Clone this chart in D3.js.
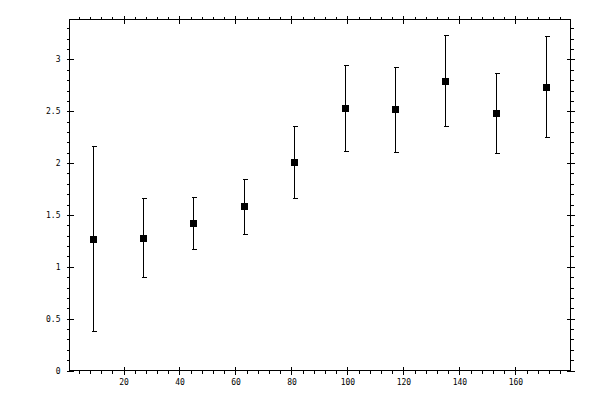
<!DOCTYPE html>
<html>
<head>
<meta charset="utf-8">
<script src="https://cdn.jsdelivr.net/npm/d3@7.9.0/dist/d3.min.js"></script>
<style>
  body { margin: 0; background: #fff; }
  svg { display: block; }
  .tick text { font-family: "DejaVu Sans Mono", monospace; font-size: 8px; fill: #000; }
</style>
</head>
<body>
<svg id="chart" width="600" height="400"></svg>
<script>
// bin centres, means and error bar ends
const xs    = [9, 27, 45, 63, 81, 99, 117, 135, 153, 171];
const means = [1.27, 1.28, 1.425, 1.59, 2.015, 2.535, 2.525, 2.795, 2.487, 2.738];
const lows  = [0.383, 0.898, 1.168, 1.319, 1.667, 2.121, 2.111, 2.362, 2.101, 2.256];
const highs = [2.162, 1.667, 1.677, 1.85, 2.362, 2.951, 2.931, 3.237, 2.873, 3.224];

const xMajor = [20, 40, 60, 80, 100, 120, 140, 160];
const xMinor = d3.range(4, 180, 4).filter(v => v % 20 !== 0);
const yMajor = [0, 0.5, 1, 1.5, 2, 2.5, 3];
const yMinor = d3.range(1, 34).map(v => v / 10).filter(v => Math.round(v * 10) % 5 !== 0);

const mLeft = 69.5, mRight = 570.5, mTop = 19.5, mBottom = 370.5;

const x = d3.scaleLinear().domain([0.7, 179.7]).range([mLeft, mRight]);
const y = d3.scaleLinear().domain([0, 3.385]).range([mBottom, mTop]);
const px = v => Math.round(x(v)) + 0.5;
const py = v => Math.round(y(v)) + 0.5;

const svg = d3.select('#chart');
const g = svg.append('g')
  .attr('stroke', '#000')
  .attr('stroke-width', 1)
  .attr('shape-rendering', 'crispEdges');

// frame
g.append('rect')
  .attr('x', mLeft).attr('y', mTop)
  .attr('width', mRight - mLeft).attr('height', mBottom - mTop)
  .attr('fill', 'none');

// minor ticks point outwards, major ticks cross the frame
xMinor.forEach(v => {
  g.append('line').attr('x1', px(v)).attr('x2', px(v)).attr('y1', mBottom).attr('y2', mBottom + 3);
  g.append('line').attr('x1', px(v)).attr('x2', px(v)).attr('y1', mTop).attr('y2', mTop - 3);
});
xMajor.forEach(v => {
  g.append('line').attr('x1', px(v)).attr('x2', px(v)).attr('y1', mBottom - 4).attr('y2', mBottom + 4);
  g.append('line').attr('x1', px(v)).attr('x2', px(v)).attr('y1', mTop - 4).attr('y2', mTop + 4);
});
yMinor.forEach(v => {
  g.append('line').attr('y1', py(v)).attr('y2', py(v)).attr('x1', mLeft).attr('x2', mLeft - 3);
  g.append('line').attr('y1', py(v)).attr('y2', py(v)).attr('x1', mRight).attr('x2', mRight + 3);
});
yMajor.forEach(v => {
  g.append('line').attr('y1', py(v)).attr('y2', py(v)).attr('x1', mLeft - 3).attr('x2', mLeft + 4);
  g.append('line').attr('y1', py(v)).attr('y2', py(v)).attr('x1', mRight - 4).attr('x2', mRight + 4);
});

// tick labels via d3 axes (lines hidden, only text kept)
const xAxis = svg.append('g')
  .attr('transform', `translate(0,${mBottom})`)
  .call(d3.axisBottom(x).tickValues(xMajor).tickSize(0).tickPadding(9).tickFormat(d3.format('d')));
const yAxis = svg.append('g')
  .attr('transform', `translate(${mLeft},0)`)
  .call(d3.axisLeft(y).tickValues(yMajor).tickSize(0).tickPadding(9).tickFormat(d => d));
[xAxis, yAxis].forEach(a => {
  a.select('.domain').remove();
  a.attr('font-family', null).attr('font-size', null);
});

// error bars
const data = xs.map((v, i) => ({ x: v, m: means[i], lo: lows[i], hi: highs[i] }));
const bars = g.selectAll('.err').data(data).join('g').attr('class', 'err');
bars.append('line')
  .attr('x1', d => px(d.x)).attr('x2', d => px(d.x))
  .attr('y1', d => py(d.lo)).attr('y2', d => py(d.hi));
bars.append('line')
  .attr('x1', d => px(d.x) - 2).attr('x2', d => px(d.x) + 3)
  .attr('y1', d => py(d.lo)).attr('y2', d => py(d.lo));
bars.append('line')
  .attr('x1', d => px(d.x) - 2).attr('x2', d => px(d.x) + 3)
  .attr('y1', d => py(d.hi)).attr('y2', d => py(d.hi));

// square markers
svg.selectAll('.pt').data(data).join('rect')
  .attr('class', 'pt')
  .attr('shape-rendering', 'crispEdges')
  .attr('x', d => Math.round(x(d.x)) - 3)
  .attr('y', d => Math.round(y(d.m)) - 3)
  .attr('width', 7).attr('height', 7)
  .attr('fill', '#000');
</script>
</body>
</html>
